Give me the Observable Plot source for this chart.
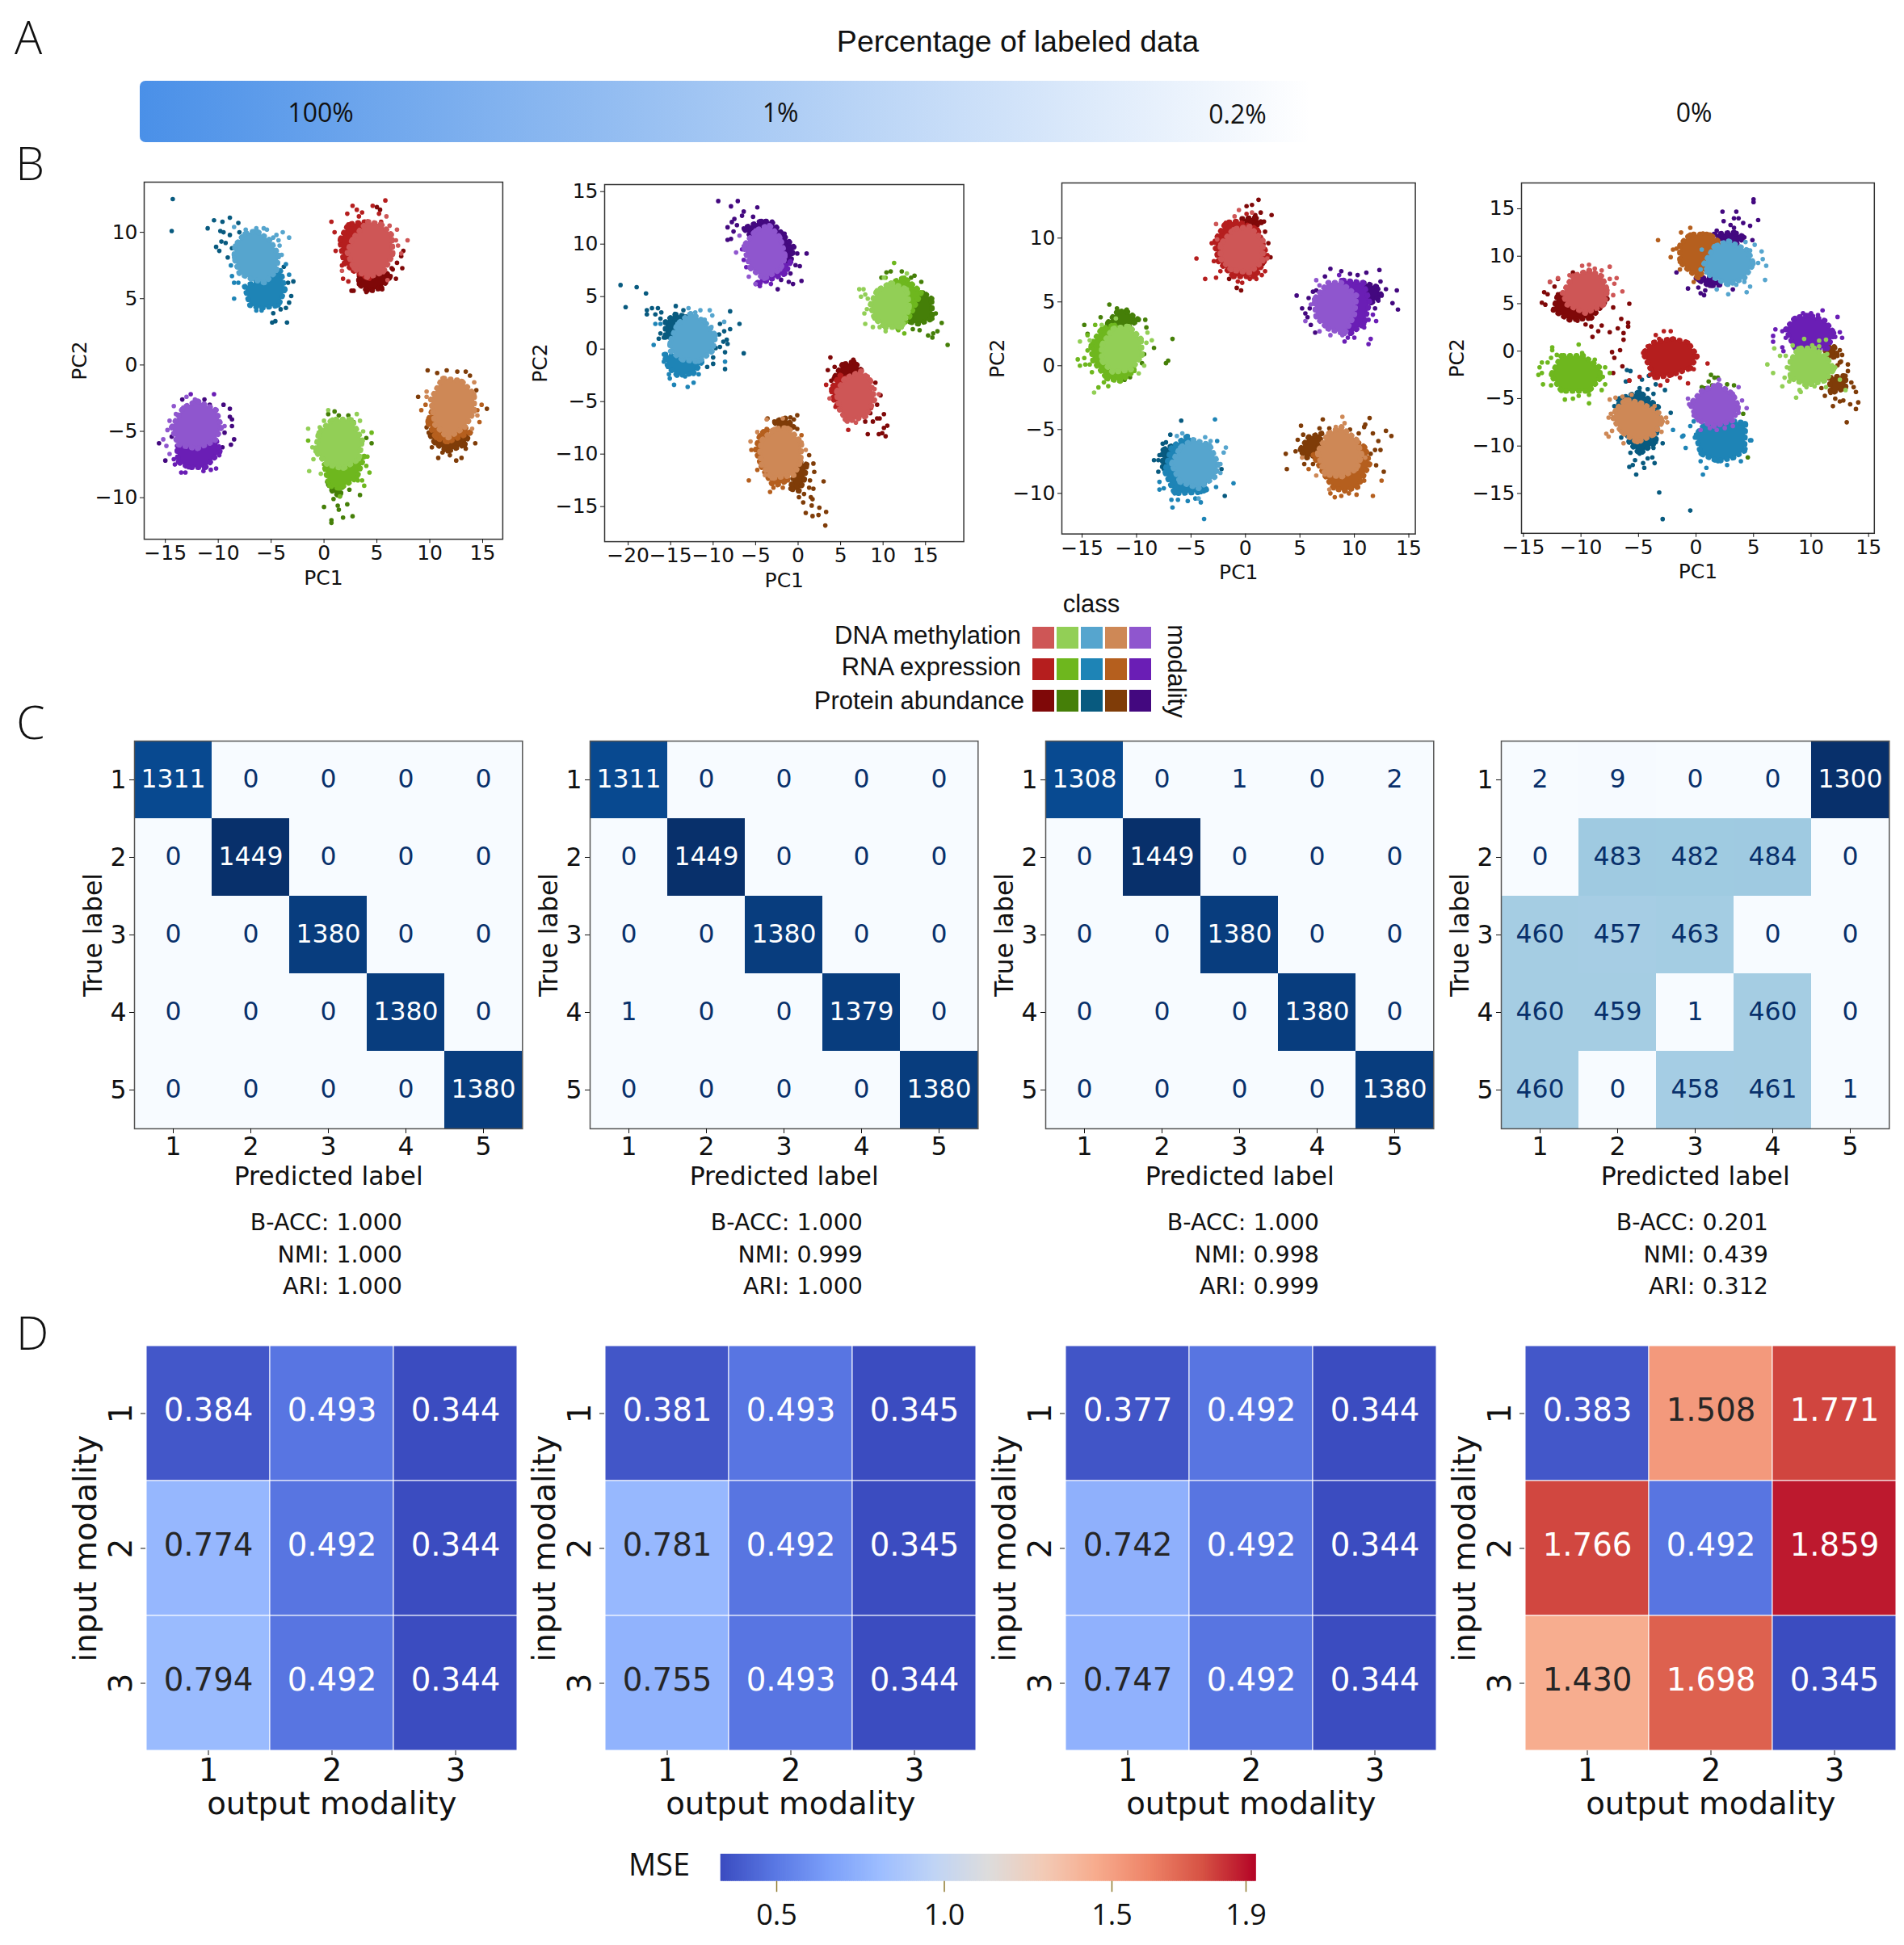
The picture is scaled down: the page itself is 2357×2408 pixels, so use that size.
<!DOCTYPE html>
<html><head><meta charset="utf-8">
<script src="https://cdn.jsdelivr.net/npm/d3@7"></script>
<script src="https://cdn.jsdelivr.net/npm/@observablehq/plot@0.6"></script>
<style>
html,body{margin:0;padding:0;background:#fff}
#root{position:relative;width:2357px;height:2408px;background:#fff;overflow:hidden}
.t{position:absolute;white-space:nowrap;transform:translate(-50%,-50%);line-height:1;color:#111}
</style></head><body><div id="root"></div>
<script>
// ---------- Panel A ----------
const percentLabels = [["100%",397,138],["1%",966,138],["0.2%",1532,140],["0%",2097,138]];
// ---------- Panel B: classes, modalities, colours ----------
const modalities = ["DNA methylation","RNA expression","Protein abundance"];
const dnaColors = ["#ce5656","#92cf56","#56a5ce","#ce8856","#8f56ce"];
const rnaColors = ["#b51e1e","#6eb71e","#1e84b6","#b55f1e","#6a1eb5"];
const proteinColors = ["#7f0808","#457f08","#085a7f","#7f3c08","#43087f"];
// each row: class index, dense-core outline (x,y,x,y...), individually visible points (x,y,x,y...)
const p1Protein = [
[0,[3.3,6.7,5.9,6.9,6.3,6.7,5.4,5.8,4.1,5.6,3.3,6.1],[5.3,11.7,5,11.9,7.5,8.6,7.3,8.2,7.4,7.3,6.8,6.5,6.5,7.2,6.9,7.7,2.6,5.6,4,5.5,4.6,5.6,5.5,5.7,6.4,7.3,2.8,5.6]],
[1,[.3,-8.8,1.8,-8.7,1.5,-9.9,.8,-9.5],[0,-10.7,1.8,-11.5,2.7,-11.4,.7,-11.7,.7,-11.9,1.4,-10.9,2.2,-10.5,3.4,-9.8,2.4,-9.4,.9,-10.1,1.3,-10.6,1,-3.5,1.4,-3.8,2.3,-3.8,.4,-3.7,2.8,-4.3,4.5,-5.9,4,-5.5]],
[2,null,[-14.3,12.5,-14.4,10.1,-11,10.3,-10.4,10.9,-9.6,10.8,-8.9,11.1,-8.1,10.7,-9.8,10.1,-9.5,10,-8.9,9.8,-8,10,-9.7,9.3,-9.3,9.2,-10.2,8.9,-9.9,8.6,-9.1,8.1,-8.7,8.8,-2.9,6.3,-3.4,6.2,-3.1,5.2,-3.3,4.7,-3.6,4.3,-4.1,4.2,-4.8,3.9,-4.9,3.2,-4.6,3.3,-3.5,3.2,-3.8,7.4]],
[3,[9.9,-5.1,11.5,-5.5,13.8,-5.1,13.3,-6,11.7,-6.5,10.5,-5.9],[9.8,-.4,11.6,-.4,10.7,-.6,12.6,-.5,13.4,-.5,13.8,-.8,8.9,-2.4,14.4,-1.9,15.4,-3.3,14.3,-5.9,13.4,-6.3,13,-7,12.5,-7.2,10.8,-7,10.2,-6.2,11.2,-6.6,11.9,-6.8,9.7,-4.7]],
[4,null,[-15.6,-5.9,-15,-7.2,-8.9,-3.3,-8.9,-3.9,-8.7,-4.1,-8.7,-4.6,-8.5,-5.6,-8.8,-6,-11.3,-2.6,-13.4,-2.6,-10.8,-3,-9.5,-3,-10.1,-3.9,-9.4,-5.1,-9.6,-6.2,-14.4,-5.4]]];
const p1Rna = [
[0,[1.5,9.4,2.3,10.6,4.1,10.8,2.8,7.1,1.9,7.7,4.3,6.5],[.7,10.8,1,10,1.1,8.6,2.7,12,2.2,11.4,3.1,11.7,3.6,11.5,3.3,11.2,4.6,12,5.2,11.4,5.8,12.4,1.8,6.5,1.7,7.5,5.4,10.8,2.3,6.3]],
[1,[0,-7.5,3.3,-7.1,3.8,-6.9,3.1,-8.5,1.5,-9.3,.5,-9.1],[-1.5,-5.7,4.5,-5.1,4.3,-8.1,3.8,-9.1,3.6,-8.7,3.2,-8.7,4,-7.6,4.1,-6.9,1.5,-9.9]],
[2,[-7.5,5.9,-5.9,6.3,-4.1,7.1,-3.7,5.7,-4.3,4.5,-5.9,4.3,-7,4.5],[-8.5,5,-8.5,6.2,-8.1,6.2,-3.6,7.6,-3.3,6.8,-6.4,4.1,-5.9,4.1,-8.7,6.7,-8.8,7.5]],
[3,[9.8,-4.3,10.7,-2.4,13.8,-5.1,11.7,-5.8,10.6,-5.5],[9.2,-3.4,9.6,-3,9.8,-4.2,14.9,-3,14.7,-4.3,14.5,-3.4]],
[4,[-13.9,-6.1,-10.2,-5.7,-9.8,-6.5,-11.2,-7.7,-12.8,-7.7,-13.8,-7.3],[-10.4,-2.2,-12.6,-2.2,-13.5,-8.1,-13.1,-8.1,-11.4,-8,-10.7,-7.9,-10.2,-7.8,-14.1,-7.5,-14.2,-7.1,-9.9,-6.8]]];
const p1Dna = [
[0,[2.7,9.5,4.1,10.8,5.4,10.6,6.4,9.8,6.5,8.3,5.6,7,4.1,6.6,2.8,7.3,2.2,8.5],[7.9,9.4,6.9,10.2,6.2,10.5,5.9,11.2,6.8,9.4,7,9,1.7,7.1,6,6.4,7.3,8.4]],
[1,[-.5,-5.1,.8,-4.1,2.6,-4.1,3.6,-5.7,3.3,-7.1,1.8,-7.8,.3,-7.5,-.8,-6.5],[-1.5,-4.8,.4,-3.4,3.1,-3.7,3.4,-4.2,3.7,-5,-1.4,-8,-.3,-8.2,-1.1,-6.2,-1,-7.1,0,-4.2,-.4,-4.7]],
[2,[-8.4,9,-7.5,9.9,-6.4,10.1,-5.1,9.4,-4.3,8.3,-4.5,7.1,-5.6,6.2,-6.9,6.5,-8,6.9,-8.5,8.1],[-7.4,10.2,-6.4,10.3,-5.7,10.3,-5.4,10.2,-3.9,10,-3.3,9.6,-4.5,9.8,-4.8,9.6,-4.3,9.4,-4.2,9,-4,8.3,-8.5,10.4]],
[3,[10.1,-2.6,11.2,-1,13,-1.2,14.2,-2.2,14.2,-3.5,13.3,-4.7,11.7,-5.5,10.5,-4.5],[14.2,-1.3,9.7,-2,9.7,-2.4,14.5,-3.8,14,-4.8]],
[4,[-14.4,-4.7,-13.3,-3.2,-12,-2.7,-10.2,-3.4,-9.7,-4.7,-10.3,-5.7,-12,-6.3,-13.8,-6],[-14.2,-3.1,-14,-3.7,-14.6,-4.2,-14.8,-4.9,-15.2,-5.6,-14.9,-6.1,-14.6,-6.7,-13,-2.4,-9.4,-4.6,-12.2,-2.6]]];

const p2Protein = [
[0,[4.2,-2.8,5.2,-1.5,6.6,-1.2,7.4,-2,5.2,-2.8],[3.8,-.8,4.3,-1.7,3.5,-2,6.5,-1,3.9,-3,9.1,-3.2,9.7,-4.4,9.3,-5.3,10.1,-6.2,9.6,-6.6,10.5,-7.3,10.1,-7.5,9.5,-8.1,9.9,-8,10.3,-8.3,8.2,-8.1,8.8,-6.9,8.5,-6.1,9.3,-6.6,7.9,-6.9]],
[1,[13.6,3.9,14.7,5.4,15.7,4.8,15.8,2.9,14.2,2.4,13.1,2.6],[17.6,.4,15.8,1.1,15.3,1.3,15.9,1.5,16.4,1.7,16.9,2.5,16.2,3.4,14.3,1.8,13.5,1.9,14.5,6.4,12.2,7.4,10.9,7.4,10.4,7.3,9.8,6.8,13.7,7,13.3,6.8]],
[2,[-15.6,2.6,-14.5,3.3,-13.2,3.1,-14.5,1.3,-15.6,1.1],[-20.9,6.1,-19,5.9,-17.9,5.3,-20.3,4,-17.8,3.7,-17.2,3.9,-16.5,3.9,-14.4,4.1,-17.8,3.3,-16.8,3.3,-16.1,3.5,-16.2,2.9,-13.5,3.7,-8,3.6,-6.9,2.4,-9.2,2.4,-8,1.9,-8.7,1.7,-9.3,1.4,-8.4,.9,-8.8,.7,-8.3,.5,-9.2,.2,-8.6,-.3,-6.4,-.4,-8.6,-1.9,-10,-1.4,-10,-.8,-16.4,1,-15.8,1.1,-16.2,1.5,-10.1,.3,-10.4,-.1,-10.2,.8,-9.7,.1,-10.7,-1.7]],
[3,[-2.8,-6.9,-1.5,-6.6,-.5,-7.4,-2.1,-7.7],[-3.6,-6.6,-.9,-6.5,-.1,-6.3,-.5,-6.7,-.1,-7.6,1.3,-10.1,1.8,-10.9,1.9,-11.7,1.4,-12.5,3,-12.6,1.3,-13.2,1.8,-13.3,1.5,-14.1,1.7,-14.3,.6,-14.6,.1,-14.1,1.6,-14.9,2.5,-15.1,3.3,-15.5,.9,-15.6,1.7,-15.9,2.4,-15.8,3.2,-16.8,.7,-13.8]],
[3,[.1,-10.7,1,-11,.7,-12.5,.1,-13.5,-.9,-13.3,-.5,-12],[]],
[4,[-6.4,11.5,-4.3,12.2,-3.1,12.1,-.5,9.7,-.9,8.3,-2.1,8.5,-5.6,10.8],[-9.4,14.1,-7.9,13.6,-7.1,14.1,-4.8,13.5,-6.4,13.1,-6.6,12.7,-7.5,12.4,-7.8,12.1,-7.2,11.8,-8.3,11.6,-7.6,11.2,-8.3,10.4,-7.9,10.5,-5.3,12.6,1,9.1,-.1,9.1,.2,7.9,-.3,8,.4,6.5,-.6,6.2,-1.1,6.4,-2.4,5.7,-2,6.6,-1.6,11,-.9,7.2]]];
const p2Rna = [
[0,[3.9,-3.8,4.9,-2.5,5.8,-2.8,4.9,-5.8,4.2,-4.8],[3.3,-3.4,5.9,-7.7,4.4,-5.5,8.6,-5.6]],
[1,[10.9,6.3,12.5,6.8,14.5,5.4,13.1,3.1,11.8,1.8],[11.3,8.2,12.5,1.5,10.3,6.8,13.1,6.2]],
[2,[-15.8,-.5,-13.6,-1,-11.3,-1.2,-12.3,-2.3,-14.2,-2.5,-15.3,-1.7],[-17,.4,-16.2,2.4,-16.8,2.4,-15.8,-1.2,-15.3,-1.7,-15.2,-2.4,-15.1,-2.8,-14.6,-3.4,-13,-3.6,-12.3,-3.2,-11.7,-2.4,-14.3,-2.5,-13.3,-2.6,-8.6,-1.2]],
[3,[-5,-9.6,-4.5,-8.2,-3.7,-7.6,-4.3,-11.2,-3.1,-12.8,-1.2,-12.5,-2.4,-12.9],[-5.8,-12.5,-3.3,-13.6,-2.9,-13.2,-1.8,-13.2,-5.5,-9.6,-4.8,-11.5,-4.8,-8.9,.4,-8.2]],
[4,[-5,6.2,-2.1,7.6,-.9,8.3,-1.5,7.2,-3.7,6.5],[-4.5,6,-3.2,6.2,-6.4,8.5,-6.6,9.5,-6.1,7.8]]];
const p2Dna = [
[0,[4.5,-4.1,5.5,-2.8,7.4,-2.1,8.5,-3,9,-4.8,8,-6.4,5.8,-6.9,4.9,-5.8],[3.7,-4.7,5.5,-6.7,6.8,-7,9.5,-4.3,8.2,-2.6,9,-3.8]],
[1,[8.5,4.2,9.3,5.6,10.9,6.3,12.8,5.7,13.1,3.9,12.2,2.1,10.3,2.1,9,2.9],[7.2,5.7,7.7,5.7,7.9,5.2,7.4,5,8.2,4.8,8.1,3.8,7.8,3.4,7.9,2.4,8.8,2.1,9.6,2.1,10.3,1.7,10.1,6.8,12.8,7.2]],
[2,[-15.1,.6,-14.2,2.4,-12.6,3.4,-11,2.6,-9.7,1.3,-10.1,-.2,-11.7,-1.2,-13.6,-1,-15,-.2],[-12.9,3.9,-11.5,3.7,-10.4,3.7,-10.1,3.2,-8.7,2.6,-12.1,3.5,-11,2.8,-10.2,2.1]],
[3,[-4.3,-8.7,-2.8,-7.6,-1.2,-7.5,.4,-8.9,.3,-10.7,-.5,-12,-3.1,-12.3,-4.3,-11,-4.5,-9.7],[-5.6,-8.8,-4.8,-7.9,-3.7,-6.7,-1.8,-6.6,-3.9,-12,.9,-9.6,.4,-9.1]],
[4,[-6.4,9.8,-5,11.3,-3.4,11.8,-2.1,10.6,-1.5,8.8,-2.1,7.6,-4,6.7,-5.6,7.7],[-7.3,9.2,-5.8,6.9,-5,6.2,-6.9,10.8]]];

const p3Protein = [
[0,[-.3,11.5,.9,11.6,1.5,11.2,.4,10.8],[1.2,13,.1,12.5,.6,12.6,1.4,12,2.4,11.8,.9,11.8,1.7,11.3,1.8,10.5,2.1,9.6,2.3,8.5,-.8,6.1,-.4,5.9,-1.5,6.8,1.6,8]],
[1,[-12.7,3.3,-11.8,4.2,-11,4.3,-9.8,3.6,-10.7,3.1,-12.2,2.9],[-12.5,4.8,-11.8,4.5,-10.9,4.4,-14.8,3.2,-13.3,3.8,-9.2,3.6,-9.1,3,-8.4,1.4,-6.7,2.1,-7.1,.4,-7.3,.2,-9.3,.9,-9.8,1,-9.5,.2,-10.6,-.9,-11.1,-1.1,-14.5,2.5]],
[2,[-7.6,-6.6,-6.8,-6.3,-6.5,-6.8,-7,-8.1,-7.6,-7.9],[-5.9,-4.3,-6.9,-5.4,-7.6,-6.1,-7.3,-6,-7.9,-7,-8.4,-7.4,-8,-7.4,-8,-8.3,-7.5,-8.1,-2.2,-8.1,-1.9,-10.2]],
[3,[5,-6.6,5.8,-5.6,7,-5.3,6.5,-7,5.6,-7.2],[3.7,-6.9,3.8,-8.1,4.6,-6.7,5.1,-4.7,4.8,-5.8,5.3,-5.4,7.1,-4.2,6.8,-4.9,7.7,-4.9,9.6,-5,11,-4.6,11.4,-4.1,10.9,-4.8,11.7,-5.3,12.2,-5.9,12.9,-5.1,13.4,-5.5,12.4,-6.6,11.5,-6.9,12,-7.8,12.7,-8.3,5.4,-7.7,6.2,-7.7,10.4,-5.3,11.9,-6.6]],
[4,[10.8,6.5,12,6.2,12.5,5.5,11.5,4.9,10.8,5.5],[7.8,7.6,8.8,7.4,9.6,7.2,10.3,7.1,11.1,7.3,12.3,7.5,12.4,6.6,12.9,6,13.9,5.9,13.5,4.9,14,4.4,4.7,5.5,5.2,4.5,5.5,4.1,5.9,4.5,5.8,5.3,6.2,5.8,6.5,5.9,6,3.2,6.4,2.6,7.3,7,11.9,4.5,5.7,3.8,12.2,5.1]]];
const p3Rna = [
[0,[-2.8,9.8,-1.8,11.2,-.8,11.3,1.1,10.7,2,8.6,.9,7,-1.1,7,-2.5,8.2],[-4.5,8.4,-3.7,6.8,-2.7,6.9,-3.1,9.6,-2.8,9.2,-2.9,8.2,-2.3,7.4,-.7,6.6,-.3,6.5,.4,6.8,1,6.8,1.5,7.1,1.8,7.4,.1,11.9]],
[1,[-14.2,1.6,-13.2,2.9,-12,3.2,-14,.4,-12.7,-1,-11.5,-1.2,-10.2,-.4],[-15.4,.5,-14.8,.6,-15.2,0,-14.7,.1,-14.1,-.5,-12.6,-1.6,-13,-1.3,-13.5,-1.7,-14.3,.1,-13.8,3.2,-14.5,2.4,-14.5,1.2]],
[2,[-7.4,-8.3,-6.8,-6.4,-5.3,-5.5,-4.1,-9.9,-3.6,-9.7,-6.5,-10],[-2.8,-4.2,-1.1,-9.2,-2.7,-9.5,-3.8,-12,-6.7,-11.1,-6.8,-10.5,-6.2,-10.5,-5.3,-10.6,-7.9,-9.1,-7.9,-9.7,-7.5,-9.6,-2.6,-5.9,-4.1,-10.7,-4.6,-10.4]],
[3,[6.2,-7,7.3,-8.6,8.1,-9.6,9.1,-9.8,10.3,-9.5,11.4,-7.7,11,-6.4,10.3,-6],[5.8,-8.1,12.5,-9,11.7,-10.2,10.2,-10.1,9.5,-10,8.8,-10.2,8.2,-10.3,7.8,-10,10.9,-9,10.3,-9.4]],
[4,[8.8,6.7,10.8,6.5,11.4,5,10.9,3.3,9.6,2.5,10,4],[11.3,1.7,11.5,2.1,10,2.2,9.1,1.9,10.9,3,11.3,3.6,12,3.5,11.7,4,9.4,2.2,8.6,7.1]]];
const p3Dna = [
[0,[-2.3,9.5,-1.1,10.7,.4,10.9,1.6,9.8,1.6,8.2,.4,7.3,-1.3,7.5,-2.3,8.4],[-.6,12.2,.6,12,-1,11.7,-2.7,11.1,2,8.4,-2.6,9.9]],
[1,[-13.2,1.6,-12.2,2.9,-10.7,3.1,-9.6,2.1,-9.5,.8,-10.5,-.3,-12.2,-.5,-13.2,.4],[-13.9,-2.1,-15.2,1.9,-8.6,2,-9,2.6,-9.1,1.8,-9.8,-.6,-9.3,0,-14.3,2,-13.2,3.2,-11.9,3.7]],
[2,[-6.8,-7.7,-6,-6.4,-4.8,-5.8,-3.3,-6.2,-2.5,-7.7,-2.8,-8.7,-4.3,-9.6,-6,-9.1],[-1.8,-6.4,-2,-6.8,-2.3,-7.7,-2.3,-8.4,-5.8,-5.3,-6.3,-5.5,-3.7,-5.6,-3.2,-5.9,-4.3,-10.4]],
[3,[6.6,-6.8,7.6,-5.3,8.8,-4.8,10.2,-5.8,10.7,-7,10.2,-8.1,8.8,-8.7,7.3,-8.5],[8.9,-4,9.1,-4.5,8.3,-4.8,5.2,-7.2,6.5,-8.6,7.7,-9.7,11,-7.2]],
[4,[6.3,5.2,7.6,6.5,8.8,6.5,10.2,5.5,10,4,9.1,2.5,7.6,2.9,6.5,3.8],[6.5,6.7,5.5,3.5,7.8,2.4,6.8,2.7,6,4.8,6.8,6.3,8.9,2.4]]];

const p4Protein = [
[0,[-12,6,-12.4,4.3,-11,3.3,-9.1,3.5,-7.7,5.5],[-13.4,5.1,-13.2,6.2,-12.9,6,-13.1,4.9,-12.7,7.3,-12.3,6.8,-10.7,8.3,-12,7.6,-5.8,5,-6.5,3.4,-5.9,3,-5.9,2.6,-6.8,2.4,-7.5,2,-6.3,1.9,-6.3,1.2,-8.5,2.1,-9,1.5,-8.2,2.7,-9.1,2.6,-9.6,2.8,-10.3,3.2,-7.3,-.1,-6.6,.1,-7.1,-.7,-6.4,-1.6,-7.2,-2.3,-5.8,-3.1,-7.2,4.6]],
[1,null,[1.3,-2.5,1.9,-2.8,1.1,-3.2,.5,-3.8,.9,-3.9,1.4,-3.6,2.7,-3.5,3.3,-3.6,2.1,-3.9,4.1,-6.6,4.5,-11.2,1.6,-2.8,.7,-3.9]],
[2,[-6.8,-5.1,-4.9,-4.3,-3.3,-5.9,-3.5,-9.6,-4.9,-10.8,-5.8,-9.6],[-6,-2,-5.7,-2.1,-6.1,-3.2,-3.8,-2,-4.1,-2.6,-4.7,-3,-3.5,-3.5,-2.7,-4.1,-3.7,-4.5,-4.2,-4,-4.9,-3.9,-2.2,-6.5,-2.9,-9.7,-5.7,-10.7,-5.3,-11.5,-5.5,-12,-5.8,-12.2,-4.6,-11.8,-4.5,-12.3,-5.2,-13,-4.2,-11.3,-3.6,-11.8,-3.8,-11.2,-3.2,-14.9,-.5,-16.8,-2.9,-17.7,-7.1,-5.8,-6.5,-9.1,-3.7,-10.2]],
[3,[11.2,.3,12,.5,12.3,-.5,11.4,-.8],[12.5,-1.2,12.6,-1.1,12.3,-1.5,13.2,-1.4,13.2,-2.1,12.5,.1,12.7,-.4,13.5,-3.3,13.7,-3.8,13.9,-4.3,11.2,-4.7,12.1,-5,12.5,-5.3,12.8,-5.2,11.9,-5.8,13.4,-5.6,14.1,-5.4,13.9,-6.1,13.1,-7.5,10.9,-3.9,12,-4.2]],
[3,[11.6,-2.8,13,-2.6,13,-3.9,11.7,-4.4],[]],
[4,[1.6,12.3,3.3,12.5,4.2,12,3.5,11.3,1.9,11.7],[5,16,5,15.7,5.4,13.8,4.7,13.2,2.3,14.7,3.5,14.7,2.4,13.7,3.3,14,3.7,14,4.1,13.5,3,13.3,3.3,13,1.8,12.7,4.9,11.7,-1.7,8.3,-.7,6.6,.2,6.7,.4,6.1,.7,5.9,.8,6.4,3.2,6.5,1.2,7.3,2,7]],
[4,[0,7.7,1.2,7.7,2.1,7,1.2,6.9,.2,7.5],[]]];
const p4Rna = [
[0,[-4.6,-.2,-3.7,.9,-2.1,1.3,-.7,.9,.1,-.5,-.5,-1.8,-2.1,-2.5,-3.6,-2.8],[-3.5,1.7,-2.8,2.1,-2.2,2.1,-3.2,1.3,-4.2,.5,1,-1.3,-.7,-3.4,-2.5,-3.1,-3.1,-3.6,-1.4,-2.8,-4.9,-2.7,-4,-2.5,-5.8,-3.1,-.2,-1.9]],
[1,[-12.6,-2.5,-11.7,-.5,-9.8,-.5,-8.4,-1.7,-8.3,-2.8,-9.3,-4.2,-11.7,-4.2],[-12.5,.4,-12.5,.1,-10.2,.7,-13.4,-1.2,-13.6,-1.7,-13.7,-2.5,-13.4,-2.3,-13.3,-3.5,-12.9,-1.2,-12.6,-.7,-12.1,-.4,-9.9,-.2,-8.8,-.9,-7.9,-1.7,-7.5,-2.3,-8.1,-2.7,-7.9,-3.5,-8.2,-4.1,-9.3,-5.5,-11.4,-5.1,-10.7,-5,-10.2,-4.7,-9.3,-4.6,-12.6,-3.6]],
[2,[0,-8.8,.7,-7.8,3.3,-7.4,4.3,-7.6,4.2,-10.5,3.3,-11.2,1.9,-11.6,.4,-10.8],[-.5,-7.9,-.2,-7.4,-.1,-9.1,-1.2,-9,-1.1,-8.9,-.9,-10.2,-2,-8.3,.6,-13,.9,-12.3,.4,-11.6,2.7,-12,3.9,-11.6,4.7,-9.4,4.8,-9.4,4.3,-10.3,4.2,-7.6]],
[3,[-1.4,11.2,-.5,12.3,1.2,12.3,2.3,11.2,.9,8.9,.2,7.7,-.7,8.6,-1.4,9.4],[-3.3,11.7,-.5,13,-2.2,9.9,-2,10.7,-1.7,10.8,-1.3,12.5,-1.4,8.6,-.2,7.3,.6,12.4]],
[4,[7.8,2.3,8.6,3.5,9.8,3.8,11.2,3.2,12,1.9,11.4,.3,8.6,.3],[11,4.3,12.3,3.6,9.3,4,10,4,10.6,3.8,12.7,1.4,12.5,2,6.9,2.3,6.7,1.6,6.7,1,7.5,2.1,7.8,1.4,7.5,.4,7.6,0,12.1,1.5]]];
const p4Dna = [
[0,[-11.6,6.1,-10.7,7.9,-9.3,8.5,-8.2,7.9,-7.7,6.4,-8,4.9,-9.6,4,-11.2,4.9],[-9.3,9.1,-9.9,9,-8.8,8.7,-8.2,8.5,-7.5,8.9,-7.5,7.6,-6.9,7.7,-7.1,7.1,-6.4,6.3,-7.2,5.9,-12.7,7.3,-11,8,-12,7.7]],
[1,[8.2,-1.1,8.9,.3,10.3,.3,11.4,-.8,12,-1.9,11.2,-3.1,9.6,-3.6,8.2,-2.8],[9.4,1.3,10.1,.6,10.7,1.1,11.3,1.2,10.7,.5,6.8,.3,7.3,-.5,6.2,-1.4,6.7,-2.3,7.5,-3.7,7.7,-2.8,8.1,-3.2,8.7,-4.9,9.1,-4.3,9,-4.1,9.6,-3.8,10.3,-3.7,11.3,-3.8,12.5,-3,13,-4.1,12.1,-1.7,11.4,-.3,7.9,-1.7,7.8,-.5,8.4,.6]],
[2,[.7,9.2,1.6,11,2.8,11.6,4.5,10.6,5,9.2,4.2,7.7,2.8,7,1.2,8],[.5,10.7,.4,8.6,5.7,10.5,5.8,9.7,6.1,9,6,7.5,5.4,9.3,5.1,11.2,4.7,10.6,4.3,11.5,4.7,6.8,4.4,6.2,2.8,6,1.8,6.5,4.2,7.3,3.5,7,.9,8.3,.8,9.3]],
[3,[-7,-6.2,-6.1,-5.1,-4.7,-5.5,-3.3,-6.5,-2.9,-7.4,-3.7,-8.8,-5.1,-9.6,-6.5,-8.5,-7.2,-7.1],[-7.5,-5.1,-7,-4.9,-6.4,-4.8,-5.6,-4.6,-7.6,-7,-7.4,-6.6,-2.5,-7.5,-2.6,-7,-3,-8.5,-3.2,-6.5,-7.8,-8.7,-7.6,-9,-7.3,-8.4,-6.3,-9.7,-3.6,-5.8]],
[4,[-.5,-5.6,.5,-4.2,1.9,-3.5,3.2,-4.5,3.7,-5.9,3.2,-7.3,1.6,-7.9,.2,-7.3],[-.7,-5,-.6,-5.6,4,-5.2,4.4,-6,3.7,-6.5,2,-3,3.7,-3.8,.4,-8.3,1.8,-8.3,3.2,-7.9,-.2,-6.8,1.2,-8.1,2.5,-8.1]]];

// ---------- Panel C: confusion matrices ----------
const labels5 = [1,2,3,4,5];
const cm1 = [[1311,0,0,0,0],[0,1449,0,0,0],[0,0,1380,0,0],[0,0,0,1380,0],[0,0,0,0,1380]];
const cm2 = [[1311,0,0,0,0],[0,1449,0,0,0],[0,0,1380,0,0],[1,0,0,1379,0],[0,0,0,0,1380]];
const cm3 = [[1308,0,1,0,2],[0,1449,0,0,0],[0,0,1380,0,0],[0,0,0,1380,0],[0,0,0,0,1380]];
const cm4 = [[2,9,0,0,1300],[0,483,482,484,0],[460,457,463,0,0],[460,459,1,460,0],[460,0,458,461,1]];
const metrics1 = ["1.000","1.000","1.000"];
const metrics2 = ["1.000","0.999","1.000"];
const metrics3 = ["1.000","0.998","0.999"];
const metrics4 = ["0.201","0.439","0.312"];
const bluesStops = ["#f7fbff","#deebf7","#c6dbef","#9ecae1","#6baed6","#4292c6","#2171b5","#08519c","#08306b"];
// ---------- Panel D: MSE heatmaps ----------
const labels3 = [1,2,3];
const mse1 = [[.384,.493,.344],[.774,.492,.344],[.794,.492,.344]];
const mse2 = [[.381,.493,.345],[.781,.492,.345],[.755,.493,.344]];
const mse3 = [[.377,.492,.344],[.742,.492,.344],[.747,.492,.344]];
const mse4 = [[.383,1.508,1.771],[1.766,.492,1.859],[1.430,1.698,.345]];
const coolwarmStops = ["#3b4cc0","#5977e3","#7b9ff9","#9ebeff","#c0d4f5","#dddcdc","#f2cbb7","#f7ac8e","#ee8468","#d65244","#b40426"];
const mseTicks = [0.5,1.0,1.5,1.9];

// ---------- helpers ----------
const root = document.getElementById("root");
function label(str,x,y,css){const d=document.createElement("div");d.className="t";d.textContent=str;d.style.left=x+"px";d.style.top=y+"px";Object.assign(d.style,css||{});root.appendChild(d);return d;}
function place(opts,left,top,font,size){return Plot.plot({...opts,style:{position:"absolute",left:left+"px",top:top+"px",background:"none",fontFamily:font,fontSize:size+"px",color:"#111",overflow:"visible"}});}
const flat = a => { const out=[]; for(let i=0;i+1<a.length;i+=2) out.push({x:a[i],y:a[i+1]}); return out; };
const DJ = "DejaVu Sans", LB = "Liberation Sans", OS = "Open Sans";

// ---------- Panel A ----------
label("A",35,45,{font:"300 57px 'Open Sans'"});
label("Percentage of labeled data",1260,51,{font:"37.5px 'Liberation Sans'"});
const bar=document.createElement("div");
Object.assign(bar.style,{position:"absolute",left:"173px",top:"100px",width:"1450px",height:"76px",borderRadius:"7px",background:"linear-gradient(to right,#4a90e8,#ffffff)"});
root.appendChild(bar);
percentLabels.forEach(([s,x,y])=>label(s,x,y,{font:"32px 'Open Sans'"}));

// ---------- Panel B ----------
label("B",37,201,{font:"300 57px 'Open Sans'"});
const scatterMarks = (protein,rna,dna) => {
  const marks=[];
  [[protein,proteinColors],[rna,rnaColors],[dna,dnaColors]].forEach(([rows,cols])=>{
    rows.forEach(([c,core,dots])=>{
      const fill=cols[c];
      if(core){const cp=flat(core);
        marks.push(Plot.hull(cp,{x:"x",y:"y",fill,stroke:fill,strokeWidth:7,strokeDasharray:"0.5 7.5",strokeLinecap:"round",strokeLinejoin:"round"}));
        marks.push(Plot.dot(cp,{x:"x",y:"y",r:2.8,fill}));}
      marks.push(Plot.dot(flat(dots),{x:"x",y:"y",r:2.8,fill}));
    });
  });
  return marks;
};
const scatterPanels = [
 {f:[177.5,621.4,225.4,667.5],xd:[-17,16.9],yd:[-13.13,13.78],xt:[-15,-10,-5,0,5,10,15],yt:[-10,-5,0,5,10],d:[p1Protein,p1Rna,p1Dna]},
 {f:[747.7,1192.3,228.3,670.4],xd:[-22.77,19.5],yd:[-18.34,15.67],xt:[-20,-15,-10,-5,0,5,10,15],yt:[-15,-10,-5,0,5,10,15],d:[p2Protein,p2Rna,p2Dna]},
 {f:[1314.4,1752,226.4,661],xd:[-16.86,15.6],yd:[-13.18,14.32],xt:[-15,-10,-5,0,5,10,15],yt:[-10,-5,0,5,10],d:[p3Protein,p3Rna,p3Dna]},
 {f:[1882.7,2319.5,226.4,660.2],xd:[-15.17,15.5],yd:[-19.2,17.72],xt:[-15,-10,-5,0,5,10,15],yt:[-15,-10,-5,0,5,10,15],d:[p4Protein,p4Rna,p4Dna]}];
scatterPanels.forEach(p=>{
  const [l,r,t,b]=p.f, ml=100, mr=24, mt=6, mb=70;
  root.appendChild(place({
    width:r-l+ml+mr,height:b-t+mt+mb,marginLeft:ml,marginRight:mr,marginTop:mt,marginBottom:mb,
    x:{domain:p.xd},y:{domain:p.yd},
    marks:[...scatterMarks(...p.d),
      Plot.frame({stroke:"#333",strokeWidth:1.5}),
      Plot.axisX({ticks:p.xt,tickSize:5,tickPadding:3,label:"PC1",labelAnchor:"center",labelArrow:"none",labelOffset:56}),
      Plot.axisY({ticks:p.yt,tickSize:5,tickPadding:3,label:"PC2",labelAnchor:"center",labelArrow:"none",labelOffset:89})]
  },l-ml,t-mt,DJ,25));
});

// Legend
const legendRows=[dnaColors,rnaColors,proteinColors];
const legendCells=legendRows.flatMap((cols,r)=>cols.map((fill,c)=>({r,c,fill})));
root.appendChild(place({width:157.3,height:130.4,margin:0,
  x:{type:"band",domain:[0,1,2,3,4],padding:.107,axis:null},
  y:{type:"band",domain:[0,1,2],padding:.3,axis:null},
  marks:[Plot.cell(legendCells,{x:"c",y:"r",fill:"fill"})]},1272.7,763.2,LB,30));
label("class",1351,748,{font:"31px 'Liberation Sans'"});
label(modalities[0],1264,787,{font:"31px 'Liberation Sans'",transform:"translate(-100%,-50%)"});
label(modalities[1],1264,826,{font:"31px 'Liberation Sans'",transform:"translate(-100%,-50%)"});
label(modalities[2],1268,868,{font:"31px 'Liberation Sans'",transform:"translate(-100%,-50%)"});
label("modality",1456,831,{font:"31px 'Liberation Sans'",transform:"translate(-50%,-50%) rotate(90deg)"});

// ---------- Panel C ----------
label("C",38,893,{font:"300 57px 'Open Sans'"});
const cmPanels=[[cm1,metrics1,165.8,498],[cm2,metrics2,729.5,1068],[cm3,metrics3,1294,1633],[cm4,metrics4,1858,2189]];
cmPanels.forEach(([cm,met,left,right])=>{
  const W=480.3,H=480,ml=90,mb=80,mt=4,mr=4;
  const cells=cm.flatMap((row,i)=>row.map((v,j)=>({t:i+1,p:j+1,v})));
  const mx=d3.max(cells,d=>d.v);
  root.appendChild(place({width:W+ml+mr,height:H+mt+mb,marginLeft:ml,marginRight:mr,marginTop:mt,marginBottom:mb,
    x:{type:"band",domain:labels5,padding:0},y:{type:"band",domain:labels5,padding:0},
    color:{type:"linear",domain:bluesStops.map((_,i)=>i/8*mx),range:bluesStops,interpolate:"rgb"},
    marks:[Plot.cell(cells,{x:"p",y:"t",fill:"v"}),
      Plot.text(cells,{x:"p",y:"t",text:d=>String(d.v),fill:d=>d.v>mx/2?"#ffffff":"#08306b",dy:-1}),
      Plot.frame({stroke:"#555",strokeWidth:1.5}),
      Plot.axisX({tickSize:6,tickPadding:4,label:"Predicted label",labelAnchor:"center",labelArrow:"none",labelOffset:70}),
      Plot.axisY({tickSize:6,tickPadding:4,label:"True label",labelAnchor:"center",labelArrow:"none",labelOffset:63})]
  },left-ml,917-mt,DJ,31.5));
  ["B-ACC: ","NMI: ","ARI: "].forEach((s,i)=>label(s+met[i],right,[1513,1553,1592][i],{font:"28.5px 'DejaVu Sans'",transform:"translate(-100%,-50%)"}));
});

// ---------- Panel D ----------
label("D",40,1649,{font:"300 57px 'Open Sans'"});
const cwDomain=coolwarmStops.map((_,i)=>0.344+i/10*(1.9-0.344));
const mseLeft=[[mse1,180.3],[mse2,748],[mse3,1318],[mse4,1887.3]];
mseLeft.forEach(([m,left])=>{
  const W=460.5,H=501,ml=110,mb=90,mt=4,mr=4;
  const cells=m.flatMap((row,i)=>row.map((v,j)=>({i:i+1,o:j+1,v})));
  root.appendChild(place({width:W+ml+mr,height:H+mt+mb,marginLeft:ml,marginRight:mr,marginTop:mt,marginBottom:mb,
    x:{type:"band",domain:labels3,padding:0},y:{type:"band",domain:labels3,padding:0},
    color:{type:"linear",domain:cwDomain,range:coolwarmStops,interpolate:"rgb"},
    marks:[Plot.cell(cells,{x:"o",y:"i",fill:"v",stroke:"#ffffff",strokeWidth:1}),
      Plot.text(cells,{x:"o",y:"i",text:d=>d.v.toFixed(3),fill:d=>(d.v<0.6||d.v>1.6)?"#ffffff":"#262626",dy:-3}),
      Plot.axisX({tickSize:6,tickPadding:4,label:"output modality",labelAnchor:"center",labelArrow:"none",labelOffset:78}),
      Plot.axisY({tickSize:6,tickPadding:12,tickRotate:-90,label:"input modality",labelAnchor:"center",labelArrow:"none",labelOffset:89})]
  },left-ml,1665.8-mt,DJ,38.7));
});

// Colour bar
const rampPositions=d3.range(0.333,1.928,0.004);
root.appendChild(place({width:720,height:115,margin:0,
  x:{domain:[0.333,1.928],range:[41.7,703.6],axis:null},
  y:{domain:[0,1],range:[48.7,15],axis:null},
  color:{type:"linear",domain:cwDomain,range:coolwarmStops,interpolate:"rgb"},
  marks:[Plot.rect(rampPositions,{x1:d=>d,x2:d=>d+0.006,y1:0,y2:1,fill:d=>0.344+(d-0.333)/1.595*1.556}),
    Plot.ruleX(mseTicks,{x:d=>d,y1:0,y2:-0.4,stroke:"#8f7a2e",strokeWidth:1.5}),
    Plot.text(mseTicks,{x:d=>d,y:-1.25,text:d=>d.toFixed(1),fontFamily:OS,fontSize:36,fill:"#111"})]
},850,2280,OS,36));
label("MSE",816,2307,{font:"38px 'Open Sans'"});
</script></body></html>
